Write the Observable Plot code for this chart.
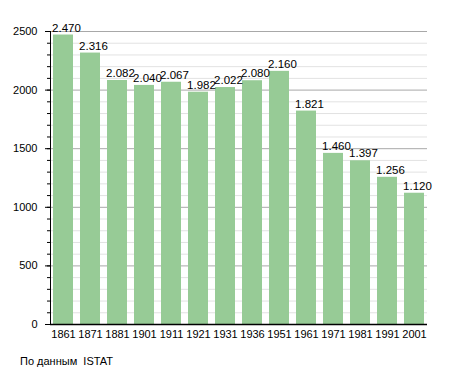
<!DOCTYPE html>
<html><head><meta charset="utf-8">
<script src="https://cdn.jsdelivr.net/npm/d3@7"></script>
<script src="https://cdn.jsdelivr.net/npm/@observablehq/plot@0.6"></script>
<style>
body{margin:0;background:#fff;font-family:"Liberation Sans",Arial,sans-serif;}
#cap{font-size:11px;color:#000;margin:10px 0 0 20px;white-space:pre;}
</style></head>
<body><div id="chart"></div><div id="cap">По данным  ISTAT</div>
<script>
const years = ["1861","1871","1881","1901","1911","1921","1931","1936","1951","1961","1971","1981","1991","2001"];
const population = [2470,2316,2082,2040,2067,1982,2022,2080,2160,1821,1460,1397,1256,1120];
const majorTicks = [0,500,1000,1500,2000,2500];
const minorTicks = d3.range(0,2501,100);

const data = years.map((y,i)=>({year:y, pop:population[i]}));
const fmt = v => d3.format(",")(v).replace(/,/g,".");

const chart = Plot.plot({
  width:455, height:345,
  marginLeft:50, marginRight:28, marginTop:31, marginBottom:21,
  style:{fontFamily:"Liberation Sans, Arial, sans-serif", fontSize:"11px", color:"#000"},
  x:{domain:years, paddingInner:0.25, paddingOuter:0.08, label:null},
  y:{domain:[0,2500], label:null},
  marks:[
    Plot.ruleY(minorTicks.filter(d=>d%500!==0), {stroke:"#e2e2e2", strokeWidth:1}),
    Plot.ruleY(majorTicks.filter(d=>d>0), {stroke:"#a8a8a8", strokeWidth:1}),
    Plot.barY(data, {x:"year", y:"pop", fill:"#97cb96"}),
    Plot.text(data, {x:"year", y:"pop", text:d=>fmt(d.pop), dy:-7, dx:3, fontSize:11.5, fill:"#000"}),
    Plot.axisY(minorTicks, {tickSize:3, text:null, stroke:"#000", label:null}),
    Plot.axisY(majorTicks, {tickSize:5, tickPadding:8, stroke:"#000", fontSize:11, tickFormat:"d", label:null}),
    Plot.axisX({tickSize:0, tickPadding:6, fontSize:11, label:null}),
    Plot.frame({anchor:"left", stroke:"#000"}),
    Plot.ruleY([0], {stroke:"#000", strokeWidth:1.5})
  ]
});
document.getElementById("chart").appendChild(chart);
</script></body></html>
